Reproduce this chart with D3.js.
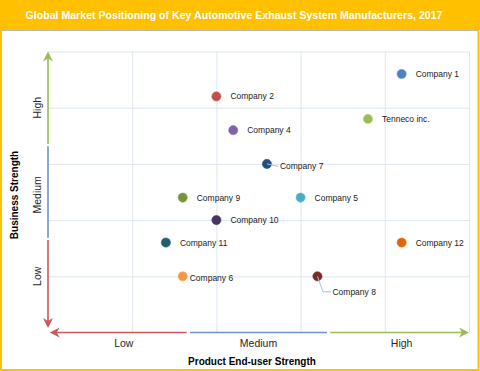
<!DOCTYPE html>
<html>
<head>
<meta charset="utf-8">
<script src="https://cdn.jsdelivr.net/npm/d3@7"></script>
<style>
  body { margin: 0; background: #fff; }
  svg { display: block; font-family: "Liberation Sans", Arial, sans-serif; }
</style>
</head>
<body>
<div id="chart"></div>
<script>
// chart data
var companies = ["Company 1", "Company 2", "Company 4", "Tenneco inc.", "Company 7", "Company 9",
                 "Company 5", "Company 10", "Company 11", "Company 12", "Company 6", "Company 8"];
var endUserStrength = [4.2, 2.0, 2.2, 3.8, 2.6, 1.6, 3.0, 2.0, 1.4, 4.2, 1.6, 3.2];
var businessStrength = [4.6, 4.2, 3.6, 3.8, 3.0, 2.4, 2.4, 2.0, 1.6, 1.6, 1.0, 1.0];
var markerColors = ["#4F81BD", "#C0504D", "#8064A2", "#9BBB59", "#264D7A", "#77933C",
                    "#4BACC6", "#46355F", "#225E72", "#DE650A", "#F79646", "#772C2A"];

var xTickLabels = ["Low", "Medium", "High"];
var xTickValues = [0.9, 2.5, 4.2];
var yTickLabels = ["Low", "Medium", "High"];
var yTickValues = [1.0, 2.45, 4.0];

var title = "Global Market Positioning of Key Automotive Exhaust System Manufacturers, 2017";

var W = 480, H = 371;
var gold = "#FFC000";
var bandColors = ["#C9595A", "#6F93C9", "#9BBB59"]; // low, medium, high

// label tweaks (px) for the few labels that do not sit to the right of their dot
var labelNudge = {
  "Company 7": {dx: 13, dy: 2.5, leader: true},
  "Company 8": {dx: 15, dy: 15.5, leader: true},
  "Company 6": {dx: 7, dy: 1.5}
};

var svg = d3.select("#chart").append("svg")
  .attr("width", W).attr("height", H);

svg.append("rect").attr("width", W).attr("height", H).attr("fill", "#fff");

// title bar
svg.append("rect").attr("x", 0).attr("y", 0).attr("width", W).attr("height", 30).attr("fill", gold);
svg.append("line").attr("x1", 2).attr("x2", W - 2).attr("y1", 30.5).attr("y2", 30.5)
  .attr("stroke", "#B8B8B8").attr("stroke-width", 1);
svg.append("text").attr("x", 234).attr("y", 18.5)
  .attr("text-anchor", "middle").attr("fill", "#fff")
  .attr("font-weight", "bold").attr("font-size", "10.6px")
  .text(title);

// outer frame
svg.append("rect").attr("x", 1).attr("y", 1).attr("width", W - 2.5).attr("height", H - 2)
  .attr("fill", "none").attr("stroke", gold).attr("stroke-width", 2);

var x = d3.scaleLinear().domain([0, 5]).range([48, 469]);
var y = d3.scaleLinear().domain([0, 5]).range([332.5, 51.5]);

// gridlines
var grid = svg.append("g").attr("class", "grid");
grid.append("g")
  .attr("transform", "translate(0," + y(0) + ")")
  .call(d3.axisBottom(x).tickValues([1, 2, 3, 4, 5]).tickSize(-(y(0) - y(5))).tickFormat(""));
grid.append("g")
  .attr("transform", "translate(" + x(0) + ",0)")
  .call(d3.axisLeft(y).tickValues([1, 2, 3, 4, 5]).tickSize(-(x(5) - x(0))).tickFormat(""));
grid.selectAll(".domain").remove();
grid.selectAll(".tick line").attr("stroke", "#DCE6F2").attr("stroke-width", 1);

// coloured axis segments with arrow heads
function arrowHead(g, tx, ty, ang, color) {
  // stealth-like head, tip at (tx,ty), pointing in direction ang
  var len = 10, half = 5, notch = 7;
  var c = Math.cos(ang), s = Math.sin(ang);
  function p(a, b) { return [tx - a * c - b * -s, ty - a * s - b * c]; }
  var pts = [p(0, 0), p(len, half), p(notch, 0), p(len, -half)];
  g.append("path").attr("d", "M" + pts.join("L") + "Z").attr("fill", color);
}

var axes = svg.append("g").attr("class", "axes");
var third = 5 / 3;
// vertical
[[0.08, third - 0.02, 0], [third + 0.02, 2 * third - 0.02, 1], [2 * third + 0.02, 5, 2]].forEach(function(s, i) {
  var y1 = y(s[0]), y2 = y(s[1]);
  axes.append("line").attr("x1", x(0)).attr("x2", x(0))
    .attr("y1", i === 0 ? y1 - 6 : y1).attr("y2", i === 2 ? y2 + 6 : y2)
    .attr("stroke", bandColors[s[2]]).attr("stroke-width", 1.6);
  if (i === 0) arrowHead(axes, x(0), y1, Math.PI / 2, bandColors[0]);
  if (i === 2) arrowHead(axes, x(0), y2, -Math.PI / 2, bandColors[2]);
});
// horizontal
[[0.02, third - 0.02, 0], [third + 0.02, 2 * third - 0.02, 1], [2 * third + 0.02, 5, 2]].forEach(function(s, i) {
  var x1 = x(s[0]), x2 = x(s[1]);
  axes.append("line").attr("y1", y(0)).attr("y2", y(0))
    .attr("x1", i === 0 ? x1 + 6 : x1).attr("x2", i === 2 ? x2 - 6 : x2)
    .attr("stroke", bandColors[s[2]]).attr("stroke-width", 1.6);
  if (i === 0) arrowHead(axes, x1, y(0), Math.PI, bandColors[0]);
  if (i === 2) arrowHead(axes, x2, y(0), 0, bandColors[2]);
});

// tick labels
svg.append("g").selectAll("text").data(xTickLabels).enter().append("text")
  .attr("x", function(d, i) { return x(xTickValues[i]); })
  .attr("y", 347)
  .attr("text-anchor", "middle").attr("font-size", "10.5px").attr("fill", "#262626")
  .text(function(d) { return d; });

svg.append("g").selectAll("text").data(yTickLabels).enter().append("text")
  .attr("transform", function(d, i) { return "translate(41," + y(yTickValues[i]) + ") rotate(-90)"; })
  .attr("text-anchor", "middle").attr("font-size", "10.5px").attr("fill", "#262626")
  .text(function(d) { return d; });

// axis titles
svg.append("text").attr("x", 252).attr("y", 364.5)
  .attr("text-anchor", "middle").attr("font-weight", "bold").attr("font-size", "10px")
  .attr("fill", "#000").text("Product End-user Strength");
svg.append("text").attr("transform", "translate(17.5,195) rotate(-90)")
  .attr("text-anchor", "middle").attr("font-weight", "bold").attr("font-size", "10px")
  .attr("fill", "#000").text("Business Strength");

// points
var pts = companies.map(function(name, i) {
  return {name: name, xv: endUserStrength[i], yv: businessStrength[i], color: markerColors[i]};
});

var dots = svg.append("g").attr("class", "dots");
dots.selectAll("circle").data(pts).enter().append("circle")
  .attr("cx", function(d) { return x(d.xv); })
  .attr("cy", function(d) { return y(d.yv); })
  .attr("r", 4.6)
  .attr("fill", function(d) { return d.color; })
  .attr("stroke", function(d) { return d3.color(d.color).brighter(0.4); })
  .attr("stroke-width", 0.6);

// leader lines
var leaders = svg.append("g").attr("class", "leaders");
pts.forEach(function(d) {
  var n = labelNudge[d.name];
  if (!n || !n.leader) return;
  var px = x(d.xv), py = y(d.yv);
  var ex = px + n.dx - 1.5, ey = py + n.dy;
  var path = n.dy > 8
    ? "M" + px + "," + py + "L" + (ex - 8) + "," + ey + "L" + ex + "," + ey
    : "M" + px + "," + py + "L" + ex + "," + ey;
  leaders.append("path").attr("d", path).attr("fill", "none")
    .attr("stroke", "#A7BFDE").attr("stroke-width", 1);
});

// labels
svg.append("g").attr("class", "labels").selectAll("text").data(pts).enter().append("text")
  .attr("x", function(d) { var n = labelNudge[d.name]; return x(d.xv) + (n ? n.dx : 14); })
  .attr("y", function(d) { var n = labelNudge[d.name]; return y(d.yv) + (n ? n.dy : 0); })
  .attr("dy", "0.35em")
  .attr("font-size", "8.5px").attr("fill", "#1a1a1a")
  .text(function(d) { return d.name; });
</script>
</body>
</html>
